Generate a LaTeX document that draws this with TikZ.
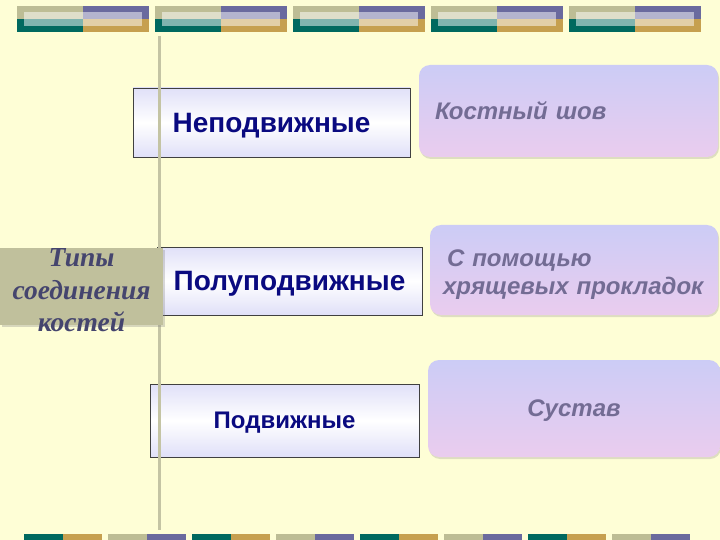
\documentclass[tikz,border=0pt]{standalone}
\usepackage{fontspec}
\setmainfont{Liberation Serif}
\setsansfont{Liberation Sans}
\usetikzlibrary{shadows}
\definecolor{bgcream}{HTML}{FEFED6}
\definecolor{barolive}{HTML}{BDBD95}
\definecolor{barpurple}{HTML}{6A6A9E}
\definecolor{barteal}{HTML}{00695F}
\definecolor{bargold}{HTML}{C6A04F}
\definecolor{boxnavy}{HTML}{0A0A80}
\definecolor{boxlav}{HTML}{E0E0F8}
\definecolor{labfill}{HTML}{C0C09C}
\definecolor{labtext}{HTML}{45456E}
\definecolor{kindtop}{HTML}{CCCCF6}
\definecolor{kindbot}{HTML}{EACCEE}
\definecolor{kindtext}{HTML}{736C94}
\definecolor{rulegray}{HTML}{C4C4A4}
\tikzset{
  typebox/.style={draw=black!75, line width=0.8pt, top color=boxlav, bottom color=boxlav,
    middle color=white, text=boxnavy, inner sep=0pt, text depth=0pt},
  kindbox/.style={rounded corners=11pt, top color=kindtop, bottom color=kindbot,
    drop shadow={shadow xshift=1pt, shadow yshift=-2pt, opacity=0.25},
    text=kindtext, font=\sffamily\bfseries\itshape\fontsize{24}{28}\selectfont, inner sep=0pt, text depth=0pt},
  labelback/.style={fill=labfill, drop shadow={shadow xshift=2pt, shadow yshift=-2pt, opacity=0.3}},
  labeltext/.style={text=labtext, font=\bfseries\itshape\fontsize{27.5}{32.5}\selectfont, align=center, inner sep=0pt}
}

\begin{document}
\begin{tikzpicture}[x=1pt, y=-1pt]
        \useasboundingbox (0,0) rectangle (720,540);
        \fill[bgcream] (0,0) rectangle (720,540);
        % top stripes
        \foreach \i in {0,...,4} {
          \fill[barolive] (17+138*\i, 6) rectangle (83+138*\i, 19);
          \fill[barpurple] (83+138*\i, 6) rectangle (149+138*\i, 19);
          \fill[barteal] (17+138*\i, 19) rectangle (83+138*\i, 32);
          \fill[bargold] (83+138*\i, 19) rectangle (149+138*\i, 32);
          \fill[white, opacity=0.5] (24+138*\i, 12) rectangle (142+138*\i, 26);
        }
        % bottom stripes
        \foreach \i in {0,...,3} {
          \fill[barteal] (24+168*\i, 534) rectangle (63+168*\i, 540);
          \fill[bargold] (63+168*\i, 534) rectangle (102+168*\i, 540);
          \fill[barolive] (108+168*\i, 534) rectangle (147+168*\i, 540);
          \fill[barpurple] (147+168*\i, 534) rectangle (186+168*\i, 540);
        }
        \node[typebox, minimum width=277pt, minimum height=69pt, font=\sffamily\bfseries\fontsize{28}{32}\selectfont] (fixed) at (271.5, 122.5) {Неподвижные};
        \node[typebox, minimum width=265pt, minimum height=68pt, font=\sffamily\bfseries\fontsize{28}{32}\selectfont] (semi) at (289.5, 281) {Полуподвижные};
        \node[typebox, minimum width=269pt, minimum height=73pt, font=\sffamily\bfseries\fontsize{24}{28}\selectfont] (mobile) at (284.5, 420.5) {Подвижные};
        \draw[rulegray, line width=2.5pt] (159.5, 36) -- (159.5, 530);
        \path[labelback] (0, 248) rectangle (163, 325);
        \node[labeltext] (types) at (81.5, 290.5) {Типы\\соединения\\костей};
        \node[kindbox, minimum width=299pt, minimum height=92pt, text width=267pt, align=left] (suture) at (568.5, 111) {Костный шов};
        \node[kindbox, minimum width=288pt, minimum height=90pt, text width=262pt, align=left, text depth=] (cartilage) at (574, 270) {\rule{0pt}{25.5pt}\hspace*{4pt}С помощью\\хрящевых прокладок};
        \node[kindbox, minimum width=292pt, minimum height=97pt] (joint) at (574, 408.5) {Сустав};
        \end{tikzpicture}
\end{document}
